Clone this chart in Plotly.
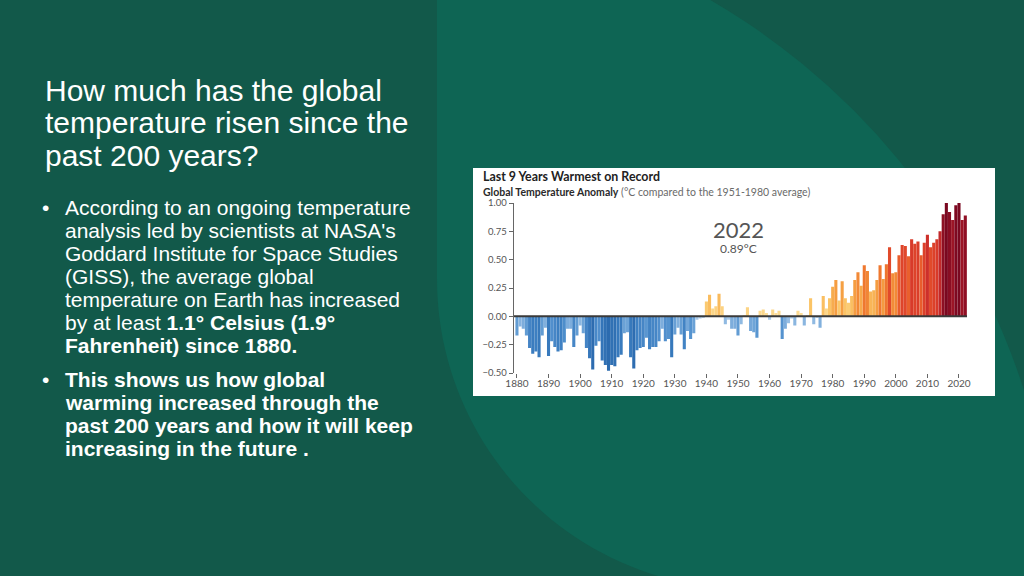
import numpy as np
import plotly.graph_objects as go

# ---------------- data ----------------
years = list(range(1880, 2023))
anomaly = [
    -0.17, -0.09, -0.11, -0.17, -0.28, -0.33, -0.31, -0.36, -0.17, -0.10,
    -0.35, -0.22, -0.27, -0.31, -0.30, -0.23, -0.11, -0.11, -0.27, -0.17,
    -0.08, -0.15, -0.28, -0.37, -0.47, -0.26, -0.22, -0.39, -0.43, -0.48,
    -0.43, -0.44, -0.36, -0.34, -0.15, -0.14, -0.36, -0.46, -0.30, -0.28,
    -0.27, -0.19, -0.29, -0.27, -0.27, -0.22, -0.11, -0.22, -0.20, -0.36,
    -0.16, -0.10, -0.16, -0.29, -0.13, -0.20, -0.15, -0.03, -0.02, -0.01,
    0.13, 0.19, 0.07, 0.09, 0.20, 0.09, -0.07, -0.03, -0.11, -0.11,
    -0.17, -0.07, 0.01, 0.08, -0.13, -0.14, -0.19, 0.05, 0.06, 0.03,
    -0.03, 0.06, 0.03, 0.05, -0.20, -0.11, -0.06, -0.02, -0.08, 0.05,
    0.03, -0.08, 0.01, 0.16, -0.07, -0.01, -0.10, 0.18, 0.07, 0.16,
    0.26, 0.32, 0.14, 0.31, 0.16, 0.12, 0.18, 0.32, 0.39, 0.27,
    0.45, 0.40, 0.22, 0.23, 0.32, 0.45, 0.33, 0.46, 0.61, 0.38,
    0.39, 0.54, 0.63, 0.62, 0.53, 0.68, 0.64, 0.66, 0.54, 0.65,
    0.72, 0.61, 0.65, 0.68, 0.75, 0.90, 1.01, 0.92, 0.85, 0.98,
    1.01, 0.85, 0.89,
]
y_tickvals = [1.0, 0.75, 0.5, 0.25, 0.0, -0.25, -0.5]
y_ticktext = ["1.00", "0.75", "0.50", "0.25", "0.00", "\u22120.25", "\u22120.50"]
x_tickvals = list(range(1880, 2021, 10))
x_ticktext = [str(v) for v in x_tickvals]

title_lines = ["How much has the global", "temperature risen since the", "past 200 years?"]
bullet1_lines = [
    "According to an ongoing temperature",
    "analysis led by scientists at NASA's",
    "Goddard Institute for Space Studies",
    "(GISS), the average global",
    "temperature on Earth has increased",
    "by at least <b>1.1\u00b0 Celsius (1.9\u00b0</b>",
    "<b>Fahrenheit) since 1880.</b>",
]
bullet2_lines = [
    "<b>This shows us how global</b>",
    "<b>warming increased through the</b>",
    "<b>past 200 years and how it will keep</b>",
    "<b>increasing in the future .</b>",
]

# ---------------- layout helpers ----------------
W, H = 1024, 576
DARK = "#12594a"
LIGHT = "#0e6554"


def px(x, y):
    return x / W, 1 - y / H


colorscale = [
    [0.0, "#2a69ad"],
    [0.12, "#3b7dc0"],
    [0.2, "#5593cf"],
    [0.28, "#8ab6e0"],
    [0.333, "#bcd6ef"],
    [0.3334, "#fde4a6"],
    [0.43, "#fbc76a"],
    [0.53, "#f6a445"],
    [0.62, "#f07e30"],
    [0.72, "#e5512b"],
    [0.8, "#d5352a"],
    [0.86, "#b31f2a"],
    [0.92, "#911024"],
    [1.0, "#7a0820"],
]

fig = go.Figure()
fig.add_trace(go.Bar(
    x=years, y=anomaly,
    marker=dict(color=anomaly, colorscale=colorscale, cmin=-0.5, cmax=1.0, line=dict(width=0)),
    showlegend=False, hoverinfo="x+y",
))

shapes = []
# light circular region
cx, cy, r = 361, 602, 696
x0, y1 = px(cx - r, cy - r)
x1, y0 = px(cx + r, cy + r)
shapes.append(dict(type="circle", xref="paper", yref="paper", x0=x0, x1=x1, y0=y0, y1=y1,
                   fillcolor=LIGHT, line=dict(width=0), layer="below"))
# left dark panel
shapes.append(dict(type="rect", xref="paper", yref="paper", x0=-0.01, x1=437 / W, y0=-0.01, y1=1.01,
                   fillcolor=DARK, line=dict(width=0), layer="below"))
# bottom-left rounded cut-out
c2x, c2y, r2 = 747, 279, 310
ang_end = np.arcsin((576 - c2y) / r2)
angs = np.linspace(np.pi - ang_end, np.pi, 40)
pts = [(437, 580), (c2x + r2 * np.cos(angs[0]), 580)]
pts += [(c2x + r2 * np.cos(a), c2y + r2 * np.sin(a)) for a in angs]
path = "M " + " L ".join(f"{px(x, y)[0]:.5f},{px(x, y)[1]:.5f}" for x, y in pts) + " Z"
shapes.append(dict(type="path", xref="paper", yref="paper", path=path,
                   fillcolor=DARK, line=dict(width=0), layer="below"))
# white chart card
bx0, by1 = px(473, 168)
bx1, by0 = px(995, 396)
shapes.append(dict(type="rect", xref="paper", yref="paper", x0=bx0, x1=bx1, y0=by0, y1=by1,
                   fillcolor="white", line=dict(width=0), layer="below"))
# zero line
shapes.append(dict(type="line", xref="paper", yref="y", x0=514 / W, x1=967 / W, y0=0, y1=0,
                   line=dict(color="#3a3a3a", width=2), layer="above"))

annotations = []


def add_text(x, y, text, size, color="white", family="Liberation Sans, Arial, sans-serif",
             xanchor="left"):
    ax, ay = px(x, y)
    annotations.append(dict(x=ax, y=ay, xref="paper", yref="paper", text=text, showarrow=False,
                            xanchor=xanchor, yanchor="middle", align="left",
                            font=dict(size=size, color=color, family=family)))


for i, t in enumerate(title_lines):
    add_text(43, 90 + 33 * i, t, 30)

for i, t in enumerate(bullet1_lines):
    add_text(63, 207 + 23 * i, t, 21)
add_text(40, 207, "\u2022", 21)
for i, t in enumerate(bullet2_lines):
    add_text(63, 379 + 23 * i, t, 21)
add_text(40, 379, "\u2022", 21)

CF = "Lato, sans-serif"
add_text(481, 176, "<b>Last 9 Years Warmest on Record</b>", 12.4, "#222222", CF)
add_text(481, 192, "<b>Global Temperature Anomaly</b> <span style='color:#6a6a6a'>(\u00b0C compared to the 1951-1980 average)</span>",
         10.5, "#2a2a2a", CF)
add_text(738, 229, "2022", 22, "#555555", CF, xanchor="center")
add_text(738, 248, "0.89\u00b0C", 12, "#555555", CF, xanchor="center")

xd0 = 513.8 / W
xd1 = 967.2 / W
yd_top = 1 - 203 / H
yd_bot = 1 - 373 / H

fig.update_layout(
    width=W, height=H, autosize=False,
    margin=dict(l=0, r=0, t=0, b=0, pad=0, autoexpand=False),
    paper_bgcolor=DARK, plot_bgcolor="rgba(0,0,0,0)",
    bargap=0.02,
    shapes=shapes, annotations=annotations,
    xaxis=dict(domain=[xd0, xd1], range=[1879.0, 2022.6], showgrid=False, zeroline=False,
               tickvals=x_tickvals, ticktext=x_ticktext, ticks="outside", ticklen=4,
               tickcolor="#666", showline=False, automargin=False, ticklabelstandoff=-3,
               tickfont=dict(family=CF, size=10, color="#555555")),
    yaxis=dict(domain=[yd_bot, yd_top], range=[-0.5, 1.0], showgrid=False, zeroline=False,
               tickvals=y_tickvals, ticktext=y_ticktext, ticks="outside", ticklen=4,
               tickcolor="#666", showline=True, linecolor="#666", linewidth=1, automargin=False,
               tickfont=dict(family=CF, size=9.5, color="#555555")),
)

fig.write_html(
    "out.html",
    config={"displayModeBar": False, "responsive": False},
    post_script="document.body.style.margin='0';document.body.style.overflow='hidden';",
)
